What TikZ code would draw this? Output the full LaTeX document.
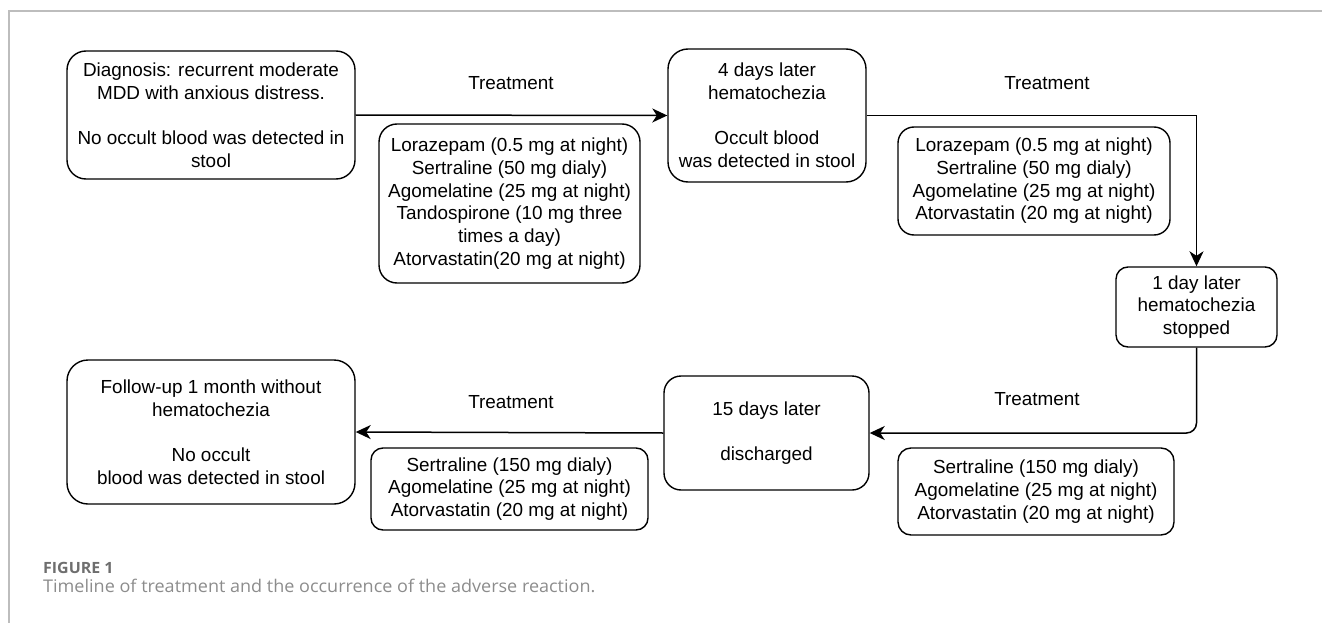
\documentclass[tikz,border=0pt]{standalone}
\usepackage{fontspec}
\setmainfont{Liberation Sans}
\newfontfamily\captionfont[FakeStretch=1.03]{Open Sans}
\usepackage{xcolor}
\usetikzlibrary{arrows.meta,positioning,calc}

\definecolor{framegray}{HTML}{BDBDBD}
\definecolor{figgray}{HTML}{6E6E6E}
\definecolor{capgray}{HTML}{8C8C8C}

\begin{document}
\begin{tikzpicture}[
    x=1pt, y=-1pt,
    every node/.style={font=\fontsize{18.9}{22.7}\selectfont, align=center, inner sep=0pt},
    box/.style={draw, line width=1.4pt, rounded corners=#1},
    box/.default=15pt,
    treat/.style={},
    capnode/.style={anchor=west, align=left, text height=0pt, text depth=0pt},
    arr/.style={line width=1.5pt, -{Stealth[length=15pt,width=14pt,inset=4.5pt]}}
]
\useasboundingbox (0,0) rectangle (1322,623);

% frame
\draw[framegray, line width=1.6pt] (1322,11) -- (9,11) -- (9,623);

% top row
\node[box=19pt, minimum width=288pt, minimum height=128pt] (diag) at (211,115)
    {Diagnosis: recurrent moderate\\MDD with anxious distress.\\[\baselineskip]No occult blood was detected in\\stool};
\node[box=20pt, minimum width=198pt, minimum height=133pt] (hema) at (767,115.5)
    {4 days later\\hematochezia\\[\baselineskip]Occult blood\\was detected in stool};
\node[box=12pt, minimum width=161pt, minimum height=80pt] (stop) at (1196.5,307)
    {1 day later\\hematochezia\\stopped};

% bottom row
\node[box=17pt, minimum width=205pt, minimum height=114pt] (disch) at (766.5,433)
    {15 days later\\[\baselineskip]discharged};
\node[box=21pt, minimum width=288pt, minimum height=144pt] (follow) at (211,432)
    {Follow-up 1 month without\\hematochezia\\[\baselineskip]No occult\\blood was detected in stool};

% medication boxes
\node[box=18pt, minimum width=261pt, minimum height=159pt] (medA) at (509.5,203.5)
    {Lorazepam (0.5 mg at night)\\Sertraline (50 mg dialy)\\Agomelatine (25 mg at night)\\Tandospirone (10 mg three\\times a day)\\Atorvastatin(20 mg at night)};
\node[box=16pt, minimum width=272pt, minimum height=108pt] (medB) at (1034,181)
    {Lorazepam (0.5 mg at night)\\Sertraline (50 mg dialy)\\Agomelatine (25 mg at night)\\Atorvastatin (20 mg at night)};
\node[box=13pt, minimum width=276pt, minimum height=87pt] (medC) at (1036,491.5)
    {Sertraline (150 mg dialy)\\Agomelatine (25 mg at night)\\Atorvastatin (20 mg at night)};
\node[box=12pt, minimum width=277pt, minimum height=82pt] (medD) at (509.5,489)
    {Sertraline (150 mg dialy)\\Agomelatine (25 mg at night)\\Atorvastatin (20 mg at night)};

% connector labels
\node[treat] (treatA) at (511,83) {Treatment};
\node[treat] (treatB) at (1047,83) {Treatment};
\node[treat] (treatC) at (1037,399) {Treatment};
\node[treat] (treatD) at (511,402) {Treatment};

% connectors
\draw[arr] (diag.east) -- (hema.west);
\draw[arr] (hema.east) -| (stop.north);
\draw[arr, rounded corners=10pt] (stop.south) |- (disch.east);
\draw[arr] (disch.west) -- (follow.east);

% caption (baseline on the node centre)
\node[capnode, font=\captionfont\bfseries\fontsize{15.5}{17}\selectfont, text=figgray] (figno) at (43,573) {FIGURE 1};
\node[capnode, font=\captionfont\fontsize{17.5}{20}\selectfont, text=capgray] (figcap) at (43,592)
    {Timeline of treatment and the occurrence of the adverse reaction.};
\end{tikzpicture}
\end{document}
